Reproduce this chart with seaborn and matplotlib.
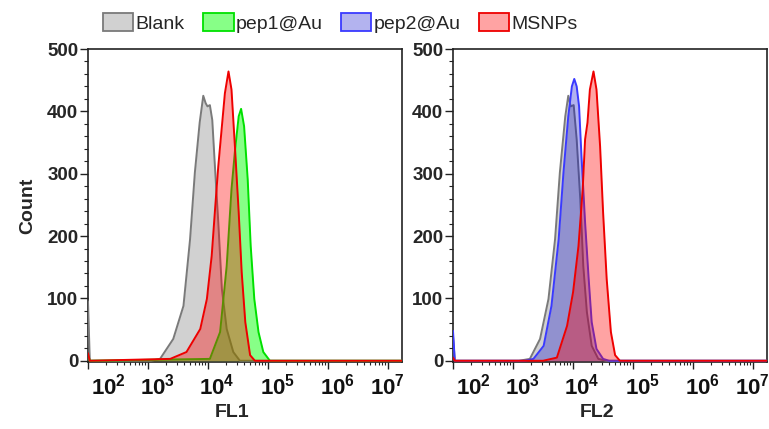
import numpy as np
import pandas as pd
import matplotlib
matplotlib.use("Agg")
import matplotlib.pyplot as plt
import matplotlib.transforms as mtransforms
from matplotlib.patches import Patch
from matplotlib.ticker import LogLocator, MultipleLocator, FixedLocator, NullFormatter
import seaborn as sns

# ---- histogram data: log10(fluorescence) positions and event counts ----
fl1_blank_exp = [2.00, 2.03, 3.05, 3.20, 3.42, 3.59, 3.70, 3.78, 3.86, 3.92, 3.96, 3.99,
                 4.03, 4.07, 4.12, 4.17, 4.23, 4.31, 4.42, 4.53, 7.30]
fl1_blank_cnt = [95, 0, 0, 3, 35, 88, 195, 302, 382, 425, 413, 408,
                 410, 386, 302, 222, 115, 51, 14, 0, 0]

fl1_pep1_exp = [2.00, 2.03, 4.03, 4.20, 4.31, 4.39, 4.45, 4.51, 4.55, 4.60, 4.66, 4.71,
                4.77, 4.84, 4.92, 5.03, 7.30]
fl1_pep1_cnt = [10, 0, 3, 46, 152, 275, 339, 392, 404, 376, 291, 184,
                99, 46, 14, 0, 0]

fl1_msnp_exp = [2.00, 2.03, 3.37, 3.64, 3.87, 3.98, 4.06, 4.12, 4.17, 4.23, 4.28, 4.34,
                4.39, 4.45, 4.51, 4.56, 4.62, 4.70, 4.78, 7.30]
fl1_msnp_cnt = [12, 0, 3, 14, 51, 99, 168, 248, 312, 376, 429, 464,
                435, 339, 238, 142, 62, 9, 0, 0]

fl2_blank_exp = [2.00, 2.03, 3.10, 3.28, 3.45, 3.59, 3.70, 3.78, 3.87, 3.92, 3.96, 4.01,
                 4.06, 4.12, 4.17, 4.23, 4.31, 4.42, 4.55, 7.30]
fl2_blank_cnt = [40, 0, 0, 3, 35, 99, 195, 302, 392, 425, 408, 410,
                 355, 259, 152, 78, 24, 3, 0, 0]

fl2_pep2_exp = [2.00, 2.03, 3.20, 3.34, 3.51, 3.64, 3.76, 3.84, 3.92, 3.98, 4.02, 4.06,
                4.10, 4.14, 4.20, 4.26, 4.31, 4.39, 4.50, 4.60, 7.30]
fl2_pep2_cnt = [48, 0, 0, 3, 24, 88, 195, 302, 392, 440, 452, 440,
                408, 328, 222, 131, 62, 19, 3, 0, 0]

fl2_msnp_exp = [2.00, 2.03, 3.50, 3.73, 3.90, 4.00, 4.09, 4.16, 4.20, 4.24, 4.28, 4.34,
                4.39, 4.45, 4.50, 4.56, 4.63, 4.70, 4.78, 7.30]
fl2_msnp_cnt = [5, 0, 0, 5, 56, 110, 184, 275, 355, 382, 435, 464,
                435, 344, 238, 131, 46, 9, 0, 0]

sample_names = ["Blank", "pep1@Au", "pep2@Au", "MSNPs"]
decade_exponents = [2, 3, 4, 5, 6, 7]
count_ticks = [0, 100, 200, 300, 400, 500]

# edge colour, fill colour, fill alpha
styles = {
    "Blank":   ("#7a7a7a", "#8c8c8c", 0.40),
    "pep1@Au": ("#00e000", "#00ff00", 0.47),
    "pep2@Au": ("#3a3aff", "#0000cb", 0.30),
    "MSNPs":   ("#ee0000", "#ff0000", 0.36),
}

# horizontal nudge (px) of each decade label so the end labels stay inside the frame
label_nudge_px = [20, 9, 9, 9, 9, -1]

sns.set_theme(style="ticks")
plt.rcParams["font.family"] = ["Liberation Sans", "DejaVu Sans"]
plt.rcParams["mathtext.fontset"] = "custom"
plt.rcParams["mathtext.rm"] = "Liberation Sans"
plt.rcParams["mathtext.bf"] = "Liberation Sans:bold"

fig = plt.figure(figsize=(7.69, 4.29), dpi=100)
ax1 = fig.add_axes([88 / 769, 67 / 429, 314 / 769, 313 / 429])
ax2 = fig.add_axes([453 / 769, 67 / 429, 314 / 769, 313 / 429])

panels = [
    (ax1, "FL1", [("Blank", fl1_blank_exp, fl1_blank_cnt),
                  ("pep1@Au", fl1_pep1_exp, fl1_pep1_cnt),
                  ("MSNPs", fl1_msnp_exp, fl1_msnp_cnt)]),
    (ax2, "FL2", [("Blank", fl2_blank_exp, fl2_blank_cnt),
                  ("pep2@Au", fl2_pep2_exp, fl2_pep2_cnt),
                  ("MSNPs", fl2_msnp_exp, fl2_msnp_cnt)]),
]

for ax, xlabel, series in panels:
    ax.set_xscale("log")
    for z, (name, exps, cnts) in enumerate(series):
        edge, fill, alpha = styles[name]
        df = pd.DataFrame({"value": np.power(10.0, exps), "count": cnts})
        ax.fill_between(df["value"], 0, df["count"], color=fill, alpha=alpha,
                        linewidth=0, zorder=2 + 2 * z)
        sns.lineplot(data=df, x="value", y="count", ax=ax, color=edge,
                     linewidth=1.4, sort=False, zorder=3 + 2 * z, legend=False)

    ax.set_xlim(10 ** 2.0, 10 ** 7.23)
    ax.set_ylim(-2, 500)

    # decade ticks; their labels are placed as texts, nudged off the tick marks
    ax.xaxis.set_major_locator(FixedLocator([10.0 ** e for e in decade_exponents]))
    ax.xaxis.set_minor_locator(LogLocator(base=10, subs=np.arange(2, 10), numticks=20))
    ax.xaxis.set_major_formatter(NullFormatter())
    ax.xaxis.set_minor_formatter(NullFormatter())
    base_tr = mtransforms.blended_transform_factory(ax.transData, ax.transAxes)
    for e, dx in zip(decade_exponents, label_nudge_px):
        tr = base_tr + mtransforms.ScaledTranslation(dx / 100, -12 / 100, fig.dpi_scale_trans)
        ax.text(10.0 ** e, 0, r"$\mathbf{10^{%d}}$" % e, transform=tr,
                ha="center", va="top", fontsize=16, color="#111111")

    ax.yaxis.set_major_locator(FixedLocator(count_ticks))
    ax.yaxis.set_minor_locator(MultipleLocator(20))
    ax.set_yticklabels([str(v) for v in count_ticks])

    ax.tick_params(axis="x", which="major", length=5, width=1, color="#222222")
    ax.tick_params(axis="x", which="minor", length=2.5, width=0.8, color="#222222")
    ax.tick_params(axis="y", which="major", length=6, width=1, pad=1,
                   labelsize=13.5, color="#222222")
    ax.tick_params(axis="y", which="minor", length=3, width=0.8, color="#222222")
    for lab in ax.get_yticklabels():
        lab.set_fontweight("bold")

    for sp in ax.spines.values():
        sp.set_visible(True)
        sp.set_color("#222222")
        sp.set_linewidth(1.2)

    ax.set_xlabel(xlabel, fontsize=14, fontweight="bold")
    ax.xaxis.set_label_coords(0.46, -0.135)
    ax.set_ylabel("")
    ax.set_facecolor("white")

ax1.set_ylabel("Count", fontsize=14, fontweight="bold", labelpad=8)

handles = []
for n in sample_names:
    edge, fill, alpha = styles[n]
    rgb = np.array(matplotlib.colors.to_rgb(fill))
    handles.append(Patch(facecolor=tuple(1 - alpha + alpha * rgb), edgecolor=edge,
                         linewidth=1.3))
fig.legend(handles, sample_names, loc="center", bbox_to_anchor=(0.443, 0.946),
           ncol=4, frameon=False, fontsize=14, handlelength=1.55, handleheight=1.03,
           handletextpad=0.12, columnspacing=0.95, borderaxespad=0)

fig.savefig("out.png", dpi=100, facecolor="white")
